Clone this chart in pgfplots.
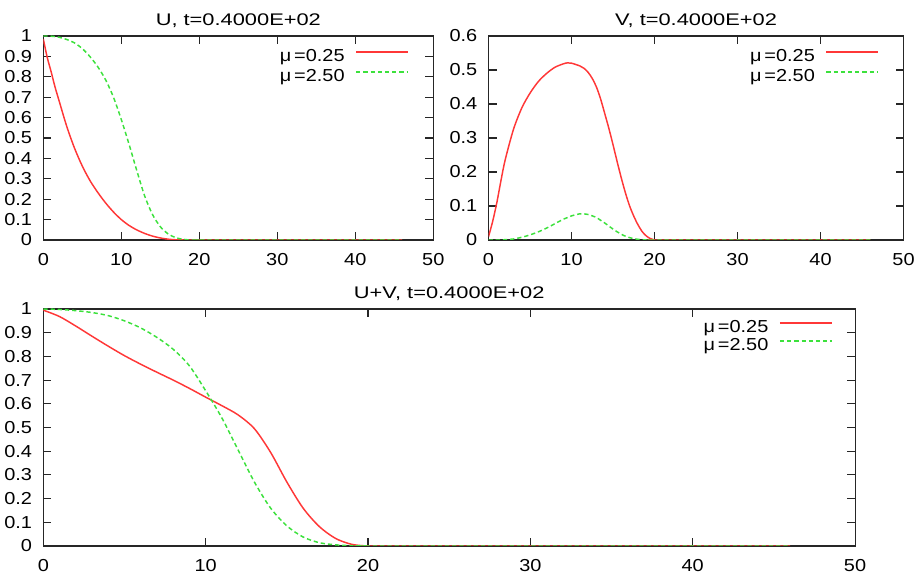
\documentclass[border=0pt]{standalone}
\usepackage{fontspec}
\setmainfont{Liberation Sans}
\newfontfamily\tickfont[FakeStretch=1.15]{Liberation Sans}
\newfontfamily\titlefont[FakeStretch=1.3]{Liberation Sans}
\usepackage{pgfplots}
\pgfplotsset{compat=1.18}
\usepackage{pgfplotstable}

\definecolor{gpred}{RGB}{255,55,55}
\definecolor{gpgreen}{RGB}{60,225,60}

\pgfplotstableread{
x U1 U2
0 0.985 1.000
0.5 0.895 1.000
1 0.825 0.999
1.5 0.750 0.997
2 0.685 0.994
3 0.557 0.983
4 0.450 0.966
5 0.362 0.938
6 0.290 0.898
7 0.232 0.848
8 0.181 0.784
9 0.137 0.699
10 0.100 0.590
11 0.071 0.468
12 0.049 0.338
13 0.032 0.215
14 0.019 0.125
15 0.010 0.065
16 0.004 0.030
17 0.001 0.011
18 0.000 0.003
19 0.000 0.000
20 0.000 0.000
21 0.000 0.000
46 0.000 0.000
}\tabU

\pgfplotstableread{
x V1 V2
0 0.010 0.000
0.5 0.055 0.000
1 0.110 0.000
1.5 0.175 0.000
2 0.235 0.001
3 0.325 0.003
4 0.388 0.008
5 0.432 0.015
6 0.466 0.024
7 0.490 0.035
8 0.508 0.048
9 0.518 0.061
9.5 0.521 0.066
10 0.520 0.071
11 0.512 0.077
11.5 0.505 0.077
12 0.493 0.075
12.5 0.475 0.071
13 0.450 0.066
13.5 0.415 0.058
14 0.372 0.050
14.5 0.328 0.041
15 0.280 0.032
15.5 0.230 0.024
16 0.182 0.017
16.5 0.138 0.011
17 0.100 0.007
17.5 0.070 0.004
18 0.045 0.002
18.5 0.025 0.001
19 0.012 0.000
19.5 0.004 0.000
20 0.000 0.000
21 0.000 0.000
46 0.000 0.000
}\tabV

\pgfplotstableread{
x S1 S2
0 0.995 1.000
1 0.968 0.998
2 0.928 0.993
3 0.885 0.985
4 0.843 0.972
5 0.803 0.950
6 0.767 0.920
7 0.733 0.880
8 0.700 0.830
9 0.665 0.760
10 0.628 0.655
11 0.592 0.540
12 0.553 0.405
13 0.495 0.270
14 0.395 0.160
15 0.270 0.085
16 0.160 0.038
17 0.082 0.014
18 0.032 0.005
19 0.007 0.001
20 0.000 0.000
21 0.000 0.000
46 0.000 0.000
}\tabS

\pgfplotsset{
  every axis title shift=0pt,
  gp/.style={
    scale only axis,
    anchor=south west,
    xmin=0, xmax=50,
    xtick={0,10,...,50},
    ymin=0,
    tick align=inside,
    tick pos=both,
    major tick length=6pt,
    axis line style={black!85, line width=0.8pt},
    every tick/.style={black!85, line width=0.8pt},
    /pgf/number format/assume math mode=true,
    tick label style={font=\tickfont\fontsize{13}{15}\selectfont, black},
    xticklabel style={inner sep=0pt, anchor=north, yshift=-9.5pt},
    yticklabel style={inner sep=0pt, anchor=east, xshift=-8.25pt},
    title style={font=\titlefont\fontsize{12.6}{14}\selectfont, at={(0.5,1)}, anchor=base, inner sep=0pt, yshift=8pt},
    legend plot pos=right,
    legend cell align=right,
    legend style={draw=none, fill=none, inner sep=0pt, at={(1,1)}, anchor=north east,
      font=\tickfont\fontsize{13}{15}\selectfont,
      nodes={inner sep=0pt, text height=9.5pt, text depth=3pt},
      column sep=8pt},
    legend image code/.code={\draw[#1, line width=1.3pt] (0pt,4pt) -- (39pt,4pt);},
    redl/.style={draw=gpred, color=gpred, line width=1.1pt, smooth, tension=0.5},
    greenl/.style={draw=gpgreen, color=gpgreen, line width=1.1pt, dash pattern=on 3.2pt off 2.2pt, smooth, tension=0.5},
  }
}

\begin{document}
\begin{tikzpicture}
\useasboundingbox (0,0) rectangle (690.75pt,433.5pt);

\begin{axis}[gp, at={(32.5pt,253.5pt)}, width=292.5pt, height=153pt,
  ymax=1, ytick={0,0.1,...,1.0}, yticklabels={0,0.1,0.2,0.3,0.4,0.5,0.6,0.7,0.8,0.9,1},
  title={U, t=0.4000E+02},
  legend style={xshift=-18pt, yshift=-9.5pt, row sep=2.5pt}]
\addplot[redl] table[x=x, y=U1] {\tabU};
\addlegendentry{μ\,=0.25}
\addplot[greenl] table[x=x, y=U2] {\tabU};
\addlegendentry{μ\,=2.50}
\end{axis}

\begin{axis}[gp, at={(366.4pt,253.5pt)}, width=311.25pt, height=153pt,
  ymax=0.6, ytick={0,0.1,...,0.6}, yticklabels={0,0.1,0.2,0.3,0.4,0.5,0.6},
  title={V, t=0.4000E+02},
  legend style={xshift=-18pt, yshift=-9.5pt, row sep=2.5pt}]
\addplot[redl] table[x=x, y=V1] {\tabV};
\addlegendentry{μ\,=0.25}
\addplot[greenl] table[x=x, y=V2] {\tabV};
\addlegendentry{μ\,=2.50}
\end{axis}

\begin{axis}[gp, at={(32.5pt,24pt)}, width=608.8pt, height=177.75pt,
  ymax=1, ytick={0,0.1,...,1.0}, yticklabels={0,0.1,0.2,0.3,0.4,0.5,0.6,0.7,0.8,0.9,1},
  title={U+V, t=0.4000E+02},
  title style={yshift=-0.5pt},
  legend style={xshift=-16.5pt, yshift=-8.3pt, row sep=1pt}]
\addplot[redl] table[x=x, y=S1] {\tabS};
\addlegendentry{μ\,=0.25}
\addplot[greenl] table[x=x, y=S2] {\tabS};
\addlegendentry{μ\,=2.50}
\end{axis}
\end{tikzpicture}
\end{document}
